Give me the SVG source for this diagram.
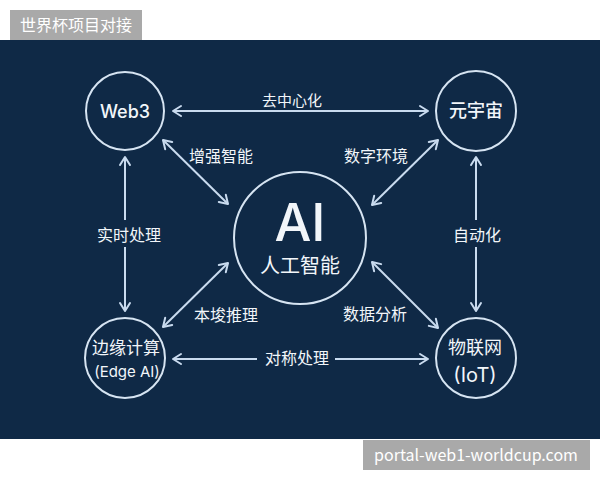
<svg xmlns="http://www.w3.org/2000/svg" width="600" height="480" viewBox="0 0 600 480">
<defs>
<style>
.bg{fill:#0f2946}
.node{fill:none;stroke:#d6e4f2;stroke-width:2}
.con{stroke:#c9dbef;stroke-width:2;fill:none}
.t{fill:#f2f6fa;font-family:"Noto Sans CJK SC","Noto Sans",sans-serif;text-anchor:middle}
.lat{font-family:Inter,"Noto Sans","Noto Sans CJK SC",sans-serif}
.tag{fill:#a9a9a9}
.tagt{fill:#ffffff;font-family:"Noto Sans CJK SC","Noto Sans",sans-serif}
</style>
<marker id="ah" markerUnits="userSpaceOnUse" markerWidth="14" markerHeight="14" viewBox="0 0 14 14" refX="11" refY="7" orient="auto-start-reverse">
<path d="M3,2 L11,7 L3,12" fill="none" stroke="#c9dbef" stroke-width="2" stroke-linecap="round" stroke-linejoin="round"/>
</marker>
</defs>
<rect x="0" y="0" width="600" height="480" fill="#ffffff"/>
<rect class="bg" x="0" y="40" width="600" height="399"/>

<g id="connectors">
<line class="con" x1="173" y1="111" x2="428" y2="111" marker-start="url(#ah)" marker-end="url(#ah)"/>
<line class="con" x1="173" y1="359" x2="257" y2="359" marker-start="url(#ah)"/>
<line class="con" x1="335" y1="359" x2="428" y2="359" marker-end="url(#ah)"/>
<line class="con" x1="125" y1="157" x2="125" y2="220" marker-start="url(#ah)"/>
<line class="con" x1="125" y1="247" x2="125" y2="311" marker-end="url(#ah)"/>
<line class="con" x1="476" y1="157" x2="476" y2="220" marker-start="url(#ah)"/>
<line class="con" x1="476" y1="247" x2="476" y2="311" marker-end="url(#ah)"/>
<line class="con" x1="163" y1="140" x2="228" y2="204" marker-start="url(#ah)" marker-end="url(#ah)"/>
<line class="con" x1="438" y1="140" x2="372" y2="205" marker-start="url(#ah)" marker-end="url(#ah)"/>
<line class="con" x1="163" y1="327" x2="228" y2="263" marker-start="url(#ah)" marker-end="url(#ah)"/>
<line class="con" x1="438" y1="328" x2="372" y2="262" marker-start="url(#ah)" marker-end="url(#ah)"/>
<text class="t" x="292" y="106" font-size="15">去中心化</text>
<text class="t" x="297" y="364" font-size="16">对称处理</text>
<text class="t" x="129" y="241" font-size="16">实时处理</text>
<text class="t" x="477" y="241" font-size="16">自动化</text>
<text class="t" x="221" y="162" font-size="16">增强智能</text>
<text class="t" x="376" y="162" font-size="16">数字环境</text>
<text class="t" x="226" y="321" font-size="16">本埈推理</text>
<text class="t" x="375" y="320" font-size="16">数据分析</text>
</g>

<g id="node-ai">
<circle class="node" cx="300" cy="238" r="66"/>
<text class="t lat" x="300" y="241" font-size="52" font-weight="500">AI</text>
<text class="t" x="300" y="273" font-size="20">人工智能</text>
</g>
<g id="node-web3">
<circle class="node" cx="125" cy="111" r="39"/>
<text class="t lat" x="125" y="118" font-size="18" font-weight="500">Web3</text>
</g>
<g id="node-metaverse">
<circle class="node" cx="476" cy="111" r="40"/>
<text class="t" x="476" y="117" font-size="18" font-weight="500">元宇宙</text>
</g>
<g id="node-edge">
<circle class="node" cx="125" cy="358" r="40"/>
<text class="t" x="126" y="354" font-size="17">边缘计算</text>
<text class="t lat" x="127" y="377" font-size="15">(Edge AI)</text>
</g>
<g id="node-iot">
<circle class="node" cx="476" cy="358" r="40"/>
<text class="t" x="475" y="354" font-size="18">物联网</text>
<text class="t lat" x="475" y="382" font-size="20">(IoT)</text>
</g>

<g id="tag-top">
<rect class="tag" x="10" y="10" width="132" height="30"/>
<text class="tagt" x="20" y="31" font-size="16">世界杯项目对接</text>
</g>
<g id="tag-bottom">
<rect class="tag" x="363" y="440" width="227" height="30"/>
<text class="tagt" x="476" y="461" font-size="16" text-anchor="middle" font-family="Inter,'Noto Sans',sans-serif">portal-web1-worldcup.com</text>
</g>
</svg>
